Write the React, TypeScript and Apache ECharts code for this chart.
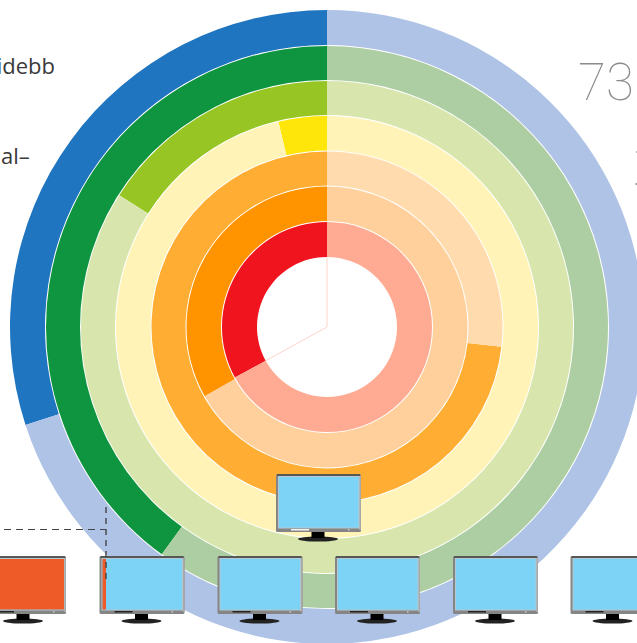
import React, { useEffect, useRef } from "react";
import * as echarts from "echarts";

const ringValues = [30, 40, 16, 3.7, 73.2, 33.2, 33];
const ringRadii = [
  [282, 317],
  [247, 281],
  [212, 246],
  [176.5, 211],
  [141.5, 175.5],
  [106, 140.5],
  [70, 105],
];
const darkColors = ["#1f75c0", "#0f9440", "#97c524", "#ffe60a", "#ffae33", "#ff9400", "#f0141f"];
const lightColors = ["#afc3e6", "#adcea3", "#d8e6ae", "#fff3b8", "#ffdbad", "#ffd09c", "#ffab93"];
const monitorLefts = [-19, 99.5, 217.5, 335, 453, 570.5];
const monitorRedWidths = [81, 4.5, 0, 0, 0, 0];

const CX = 327;
const CY = 327;

function monitor(x: number, y: number, redW: number, white: boolean) {
  const z = 100;
  const items: any[] = [
    { type: "ellipse", z, shape: { cx: x + 42, cy: y + 65, rx: 20, ry: 2.6 }, style: { fill: "#222" } },
    { type: "rect", z, shape: { x: x + 35.5, y: y + 57, width: 13, height: 7 }, style: { fill: "#000" } },
    { type: "rect", z, shape: { x, y, width: 85, height: 58, r: 1.5 }, style: { fill: "#858585" } },
    { type: "rect", z, shape: { x: x + 1, y: y + 0.5, width: 83, height: 1 }, style: { fill: "#2b2b2b" } },
    { type: "rect", z, shape: { x: x + 83, y: y + 2, width: 2, height: 54 }, style: { fill: "#a8a8a8" } },
    { type: "rect", z, shape: { x: x + 2, y: y + 2, width: 81.5, height: 52.5 }, style: { fill: "#b4c8d2" } },
    { type: "rect", z, shape: { x: x + 3, y: y + 3, width: 79.5, height: 50.5 }, style: { fill: "#7dd3f5" } },
    { type: "rect", z, shape: { x: x + 15, y: y + 55, width: 18, height: 1.5 }, style: { fill: white ? "#f4f4f4" : "#222" } },
    { type: "rect", z, shape: { x: x + 72, y: y + 55, width: 1.5, height: 1.5 }, style: { fill: "#c8c8c8" } },
  ];
  if (redW > 0) {
    items.push({ type: "rect", z, shape: { x: x + 3, y: y + 3, width: redW - 1, height: 50.5 }, style: { fill: "#ee5b28" } });
  }
  return items;
}

export default function App() {
  const ref = useRef<HTMLDivElement>(null);
  useEffect(() => {
    document.body.style.margin = "0";
    document.body.style.overflow = "hidden";
    const chart = echarts.init(ref.current!, undefined, { renderer: "svg" });

    const series = ringValues.map((v, i) => ({
      type: "pie",
      silent: true,
      center: [CX, CY],
      radius: ringRadii[i],
      startAngle: 90,
      clockwise: false,
      label: { show: false },
      labelLine: { show: false },
      itemStyle: { borderWidth: 0 },
      emphasis: { disabled: true },
      data: [
        { value: v, itemStyle: { color: darkColors[i] } },
        { value: 100 - v, itemStyle: { color: lightColors[i] } },
      ],
    }));

    const a = (ringValues[6] / 100) * 2 * Math.PI;
    const r0 = ringRadii[6][0];
    const hair = { stroke: "#ffd5cc", lineWidth: 1 };

    const graphic: any[] = [
      { type: "line", z: 50, shape: { x1: CX, y1: CY, x2: CX, y2: CY - r0 }, style: hair },
      {
        type: "line",
        z: 50,
        shape: { x1: CX, y1: CY, x2: CX - r0 * Math.sin(a), y2: CY - r0 * Math.cos(a) },
        style: hair,
      },
      ...monitor(276, 474, 0, true),
      ...monitorLefts.flatMap((x, i) => monitor(x, 556, monitorRedWidths[i], false)),
      {
        type: "polyline",
        z: 120,
        shape: { points: [[4, 529.5], [106, 529.5]] },
        style: { stroke: "#444", lineWidth: 1.2, lineDash: [7, 5], fill: "none" },
      },
      {
        type: "line",
        z: 120,
        shape: { x1: 106, y1: 507, x2: 106, y2: 581 },
        style: { stroke: "#444", lineWidth: 1.4, lineDash: [6, 5] },
      },
      {
        type: "text",
        z: 120,
        x: 55,
        y: 76,
        style: { text: "idebb", font: "22px 'Open Sans'", fill: "#3a3a3a", align: "right", verticalAlign: "bottom" },
      },
      {
        type: "text",
        z: 120,
        x: 1,
        y: 166,
        style: { text: "al–", font: "22px 'Open Sans'", fill: "#3a3a3a", align: "left", verticalAlign: "bottom" },
      },
      {
        type: "text",
        z: 120,
        x: 578,
        y: 108,
        style: { text: "73", font: "100 51px Roboto", fill: "#8c8c8c", align: "left", verticalAlign: "bottom" },
      },
      { type: "rect", z: 120, shape: { x: 636, y: 151, width: 1, height: 2 }, style: { fill: "#bbb" } },
      { type: "rect", z: 120, shape: { x: 635.5, y: 183, width: 1.5, height: 2 }, style: { fill: "#999" } },
    ];

    chart.setOption({ animation: false, backgroundColor: "#fff", tooltip: { show: false }, series, graphic });
    return () => chart.dispose();
  }, []);
  return <div ref={ref} style={{ position: "absolute", left: 0, top: 0, width: 637, height: 643 }} />;
}
